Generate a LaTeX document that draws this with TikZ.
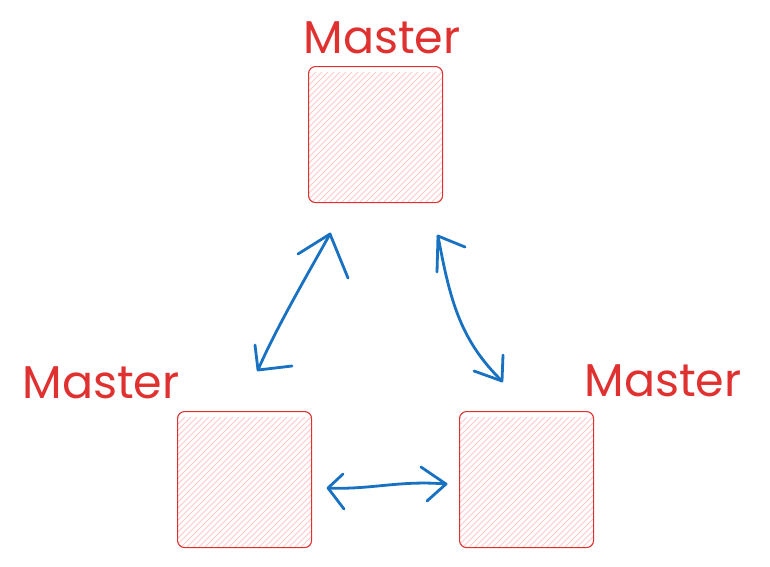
\documentclass[tikz,border=0pt]{standalone}
\usepackage{fontspec}
\setmainfont{Poppins}
\begin{document}
\begin{tikzpicture}[x=1pt,y=-1pt]
\definecolor{redstroke}{HTML}{E03131}
\definecolor{redfill}{HTML}{FFC9C9}
\definecolor{bluestroke}{HTML}{1971C2}
\tikzset{
  masterbox/.style={draw=redstroke, line width=1.1pt, rounded corners=7pt, minimum width=134pt, minimum height=136pt, inner sep=0pt},
  masterlabel/.style={text=redstroke, font=\fontsize{46}{50}\selectfont, inner sep=0pt},
  link/.style={draw=bluestroke, line width=2.8pt, line cap=round, line join=round},
}
\useasboundingbox (0,0) rectangle (770,566);
\fill[white] (0,0) rectangle (770,566);
% hachure fills
\foreach \bx/\by in {308/66, 177/411, 459/411}{
  \begin{scope}
    \clip[rounded corners=7pt] (\bx,\by) rectangle ++(134,136);
    \foreach \k in {0,6,...,280}{
      \draw[redfill, line width=1pt] (\bx-10+\k-140,\by+146) -- (\bx-10+\k,\by+6);
    }
  \end{scope}
}
\node[masterbox, anchor=north west] (top) at (308,66) {};
\node[masterbox, anchor=north west] (left) at (177,411) {};
\node[masterbox, anchor=north west] (right) at (459,411) {};
\node[masterlabel] (ltop) at (382,38) {Master};
\node[masterlabel] (lleft) at (101,383) {Master};
\node[masterlabel] (lright) at (663,381) {Master};
% arrow 1
\coordinate (a1s) at (330,234);
\coordinate (a1e) at (258,370);
\draw[link] (a1s) .. controls (310,270) and (275,330) .. (a1e);
\draw[link] (298,254) -- (a1s) -- (348,278);
\draw[link] (255,345) -- (a1e) -- (292,366);
% arrow 2
\coordinate (a2s) at (438,236);
\coordinate (a2e) at (502,381);
\draw[link] (a2s) .. controls (450,300) and (460,340) .. (a2e);
\draw[link] (437,272) -- (a2s) -- (465,247);
\draw[link] (474,371) -- (a2e) -- (503,355);
% arrow 3
\coordinate (a3s) at (328,488);
\coordinate (a3e) at (446,484);
\draw[link] (a3s) .. controls (370,490) and (400,480) .. (a3e);
\draw[link] (343,474) -- (a3s) -- (344,509);
\draw[link] (421,467) -- (a3e) -- (427,501);
\end{tikzpicture}
\end{document}
